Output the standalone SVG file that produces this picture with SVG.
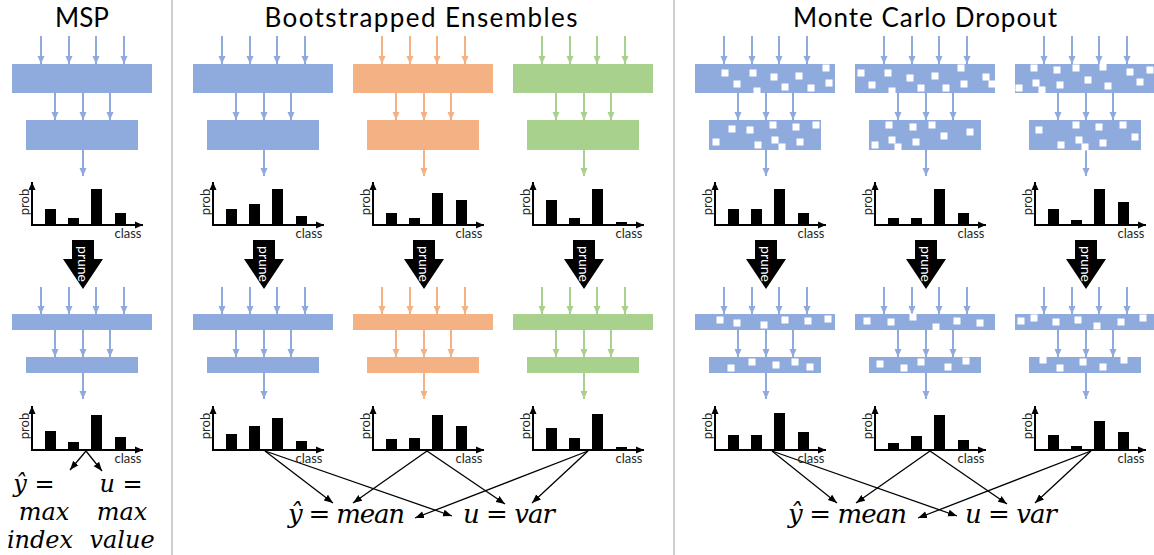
<svg xmlns="http://www.w3.org/2000/svg" xmlns:xlink="http://www.w3.org/1999/xlink" width="1154" height="555" viewBox="0 0 1154 555">
<style>
.b{fill:#8FAADC}.o{fill:#F4B183}.g{fill:#A9D18E}
.sq{fill:#fff;width:7px;height:7px}
.bar{fill:#000}
.ax{stroke:#000;stroke-width:2;marker-end:url(#mk)}
.conn{stroke:#000;stroke-width:1.3;fill:none;marker-end:url(#mc)}
.lbl{font-family:Lato,'Liberation Sans',sans-serif;font-size:13px;fill:#262626}
.title{font-family:Lato,'Liberation Sans',sans-serif;font-size:26px;fill:#000}
.math{font-family:'DejaVu Serif',serif;font-style:italic;font-size:26px;fill:#000}
.m2{font-family:'DejaVu Serif',serif;font-style:italic;font-size:24px;fill:#000}
.pt{font-family:Lato,'Liberation Sans',sans-serif;font-size:14px;fill:#fff}
.sb{stroke:#8FAADC;stroke-width:2;marker-end:url(#mb)}
.so{stroke:#F4B183;stroke-width:2;marker-end:url(#mo)}
.sg{stroke:#A9D18E;stroke-width:2;marker-end:url(#mg)}
.div{stroke:#BFBFBF;stroke-width:1.5}
</style>
<defs>
<marker id="mb" viewBox="0 0 8 8" refX="8" refY="4" markerWidth="8" markerHeight="8" markerUnits="userSpaceOnUse" orient="auto"><path d="M0,0.5 L8,4 L0,7.5 z" fill="#8FAADC"/></marker>
<marker id="mo" viewBox="0 0 8 8" refX="8" refY="4" markerWidth="8" markerHeight="8" markerUnits="userSpaceOnUse" orient="auto"><path d="M0,0.5 L8,4 L0,7.5 z" fill="#F4B183"/></marker>
<marker id="mg" viewBox="0 0 8 8" refX="8" refY="4" markerWidth="8" markerHeight="8" markerUnits="userSpaceOnUse" orient="auto"><path d="M0,0.5 L8,4 L0,7.5 z" fill="#A9D18E"/></marker>
<marker id="mk" viewBox="0 0 8 8" refX="8" refY="4" markerWidth="8" markerHeight="8" markerUnits="userSpaceOnUse" orient="auto"><path d="M0,0.5 L8,4 L0,7.5 z" fill="#000"/></marker>
<marker id="mc" viewBox="0 0 9 8" refX="9" refY="4" markerWidth="9" markerHeight="8" markerUnits="userSpaceOnUse" orient="auto"><path d="M0,0.5 L9,4 L0,7.5 z" fill="#000"/></marker>
<g id="aTop">
<line x1="29" y1="36" x2="29" y2="64"/><line x1="57" y1="36" x2="57" y2="64"/><line x1="84" y1="36" x2="84" y2="64"/><line x1="112" y1="36" x2="112" y2="64"/>
<line x1="43" y1="93" x2="43" y2="120"/><line x1="71" y1="93" x2="71" y2="120"/><line x1="98" y1="93" x2="98" y2="120"/>
<line x1="71" y1="150" x2="71" y2="176"/>
</g>
<g id="aBot">
<line x1="29" y1="287" x2="29" y2="314"/><line x1="57" y1="287" x2="57" y2="314"/><line x1="84" y1="287" x2="84" y2="314"/><line x1="112" y1="287" x2="112" y2="314"/>
<line x1="43" y1="330" x2="43" y2="357"/><line x1="71" y1="330" x2="71" y2="357"/><line x1="98" y1="330" x2="98" y2="357"/>
<line x1="71" y1="373" x2="71" y2="399"/>
</g>
<g id="axTop">
<line class="ax" x1="20" y1="226" x2="20" y2="182"/>
<line class="ax" x1="19" y1="225" x2="131" y2="225"/>
<text class="lbl" x="116" y="238" text-anchor="middle">class</text>
<text class="lbl" transform="translate(12,202) rotate(-90)" text-anchor="middle" dominant-baseline="central">prob</text>
</g>
<g id="axBot">
<line class="ax" x1="20" y1="451" x2="20" y2="406"/>
<line class="ax" x1="19" y1="450" x2="131" y2="450"/>
<text class="lbl" x="116" y="463" text-anchor="middle">class</text>
<text class="lbl" transform="translate(12,426) rotate(-90)" text-anchor="middle" dominant-baseline="central">prob</text>
</g>
<g id="prune">
<polygon points="60,240 82,240 82,259 91,259 71,289 51,259 60,259" fill="#000"/>
<text class="pt" transform="translate(71,264) rotate(90)" text-anchor="middle" dominant-baseline="central">prune</text>
</g>
</defs>

<rect x="0" y="0" width="1154" height="555" fill="#fff"/>
<line class="div" x1="172" y1="0" x2="172" y2="555"/>
<line class="div" x1="674" y1="0" x2="674" y2="555"/>

<g id="titles">
<text class="title" x="82" y="27" text-anchor="middle">MSP</text>
<text class="title" x="421" y="27" text-anchor="middle" textLength="313">Bootstrapped Ensembles</text>
<text class="title" x="925" y="27" text-anchor="middle" textLength="264">Monte Carlo Dropout</text>
</g>

<g id="connectors">
<use href="#aTop" x="12" class="sb"/><use href="#aBot" x="12" class="sb"/>
<use href="#aTop" x="193" class="sb"/><use href="#aBot" x="193" class="sb"/>
<use href="#aTop" x="353" class="so"/><use href="#aBot" x="353" class="so"/>
<use href="#aTop" x="513" class="sg"/><use href="#aBot" x="513" class="sg"/>
<use href="#aTop" x="695" class="sb"/><use href="#aBot" x="695" class="sb"/>
<use href="#aTop" x="855" class="sb"/><use href="#aBot" x="855" class="sb"/>
<use href="#aTop" x="1015" class="sb"/><use href="#aBot" x="1015" class="sb"/>
<line class="conn" x1="86" y1="451" x2="70" y2="470"/>
<line class="conn" x1="86" y1="451" x2="102" y2="471"/>
<line class="conn" x1="265" y1="451" x2="333" y2="503"/>
<line class="conn" x1="265" y1="451" x2="452" y2="516"/>
<line class="conn" x1="427" y1="451" x2="353" y2="503"/>
<line class="conn" x1="427" y1="451" x2="505" y2="504"/>
<line class="conn" x1="588" y1="451" x2="415" y2="518"/>
<line class="conn" x1="588" y1="451" x2="532" y2="503"/>
<line class="conn" x1="772" y1="451" x2="837" y2="503"/>
<line class="conn" x1="772" y1="451" x2="957" y2="516"/>
<line class="conn" x1="930" y1="451" x2="856" y2="503"/>
<line class="conn" x1="930" y1="451" x2="1007" y2="504"/>
<line class="conn" x1="1091" y1="451" x2="918" y2="518"/>
<line class="conn" x1="1091" y1="451" x2="1035" y2="503"/>
</g>

<g id="msp">
<g id="msp-l1"><rect class="b" x="12" y="64" width="140" height="29"/></g>
<g id="msp-l2"><rect class="b" x="26" y="120" width="112" height="30"/></g>
<g id="msp-out1"><use href="#axTop" x="12"/><rect class="bar" x="45" y="209" width="11" height="16"/><rect class="bar" x="68" y="218" width="11" height="7"/><rect class="bar" x="91" y="189" width="11" height="36"/><rect class="bar" x="115" y="213" width="11" height="12"/></g>
<g id="msp-prune"><use href="#prune" x="12"/></g>
<g id="msp-l3"><rect class="b" x="12" y="314" width="140" height="16"/></g>
<g id="msp-l4"><rect class="b" x="26" y="357" width="112" height="16"/></g>
<g id="msp-out2"><use href="#axBot" x="12"/><rect class="bar" x="45" y="431" width="11" height="19"/><rect class="bar" x="68" y="442" width="11" height="8"/><rect class="bar" x="91" y="415" width="11" height="35"/><rect class="bar" x="115" y="437" width="11" height="13"/></g>
<g id="msp-result">
<text class="m2" x="34" y="492" text-anchor="middle">ŷ =</text>
<text class="m2" x="44" y="520" text-anchor="middle">max</text>
<text class="m2" x="40" y="548" text-anchor="middle">index</text>
<text class="m2" x="121" y="492" text-anchor="middle">u =</text>
<text class="m2" x="122" y="520" text-anchor="middle">max</text>
<text class="m2" x="122" y="548" text-anchor="middle">value</text>
</g>
</g>

<g id="boot1">
<g id="boot1-l1"><rect class="b" x="193" y="64" width="140" height="29"/></g>
<g id="boot1-l2"><rect class="b" x="207" y="120" width="112" height="30"/></g>
<g id="boot1-out1"><use href="#axTop" x="193"/><rect class="bar" x="226" y="209" width="11" height="16"/><rect class="bar" x="249" y="204" width="11" height="21"/><rect class="bar" x="272" y="189" width="11" height="36"/><rect class="bar" x="296" y="216" width="11" height="9"/></g>
<g id="boot1-prune"><use href="#prune" x="193"/></g>
<g id="boot1-l3"><rect class="b" x="193" y="314" width="140" height="16"/></g>
<g id="boot1-l4"><rect class="b" x="207" y="357" width="112" height="16"/></g>
<g id="boot1-out2"><use href="#axBot" x="193"/><rect class="bar" x="226" y="434" width="11" height="16"/><rect class="bar" x="249" y="426" width="11" height="24"/><rect class="bar" x="272" y="418" width="11" height="32"/><rect class="bar" x="296" y="441" width="11" height="9"/></g>
</g>

<g id="boot2">
<g id="boot2-l1"><rect class="o" x="353" y="64" width="140" height="29"/></g>
<g id="boot2-l2"><rect class="o" x="367" y="120" width="112" height="30"/></g>
<g id="boot2-out1"><use href="#axTop" x="353"/><rect class="bar" x="386" y="213" width="11" height="12"/><rect class="bar" x="409" y="218" width="11" height="7"/><rect class="bar" x="432" y="193" width="11" height="32"/><rect class="bar" x="456" y="200" width="11" height="25"/></g>
<g id="boot2-prune"><use href="#prune" x="353"/></g>
<g id="boot2-l3"><rect class="o" x="353" y="314" width="140" height="16"/></g>
<g id="boot2-l4"><rect class="o" x="367" y="357" width="112" height="16"/></g>
<g id="boot2-out2"><use href="#axBot" x="353"/><rect class="bar" x="386" y="439" width="11" height="11"/><rect class="bar" x="409" y="438" width="11" height="12"/><rect class="bar" x="432" y="415" width="11" height="35"/><rect class="bar" x="456" y="426" width="11" height="24"/></g>
</g>

<g id="boot3">
<g id="boot3-l1"><rect class="g" x="513" y="64" width="140" height="29"/></g>
<g id="boot3-l2"><rect class="g" x="527" y="120" width="112" height="30"/></g>
<g id="boot3-out1"><use href="#axTop" x="513"/><rect class="bar" x="546" y="200" width="11" height="25"/><rect class="bar" x="569" y="218" width="11" height="7"/><rect class="bar" x="592" y="189" width="11" height="36"/><rect class="bar" x="616" y="222" width="11" height="3"/></g>
<g id="boot3-prune"><use href="#prune" x="513"/></g>
<g id="boot3-l3"><rect class="g" x="513" y="314" width="140" height="16"/></g>
<g id="boot3-l4"><rect class="g" x="527" y="357" width="112" height="16"/></g>
<g id="boot3-out2"><use href="#axBot" x="513"/><rect class="bar" x="546" y="428" width="11" height="22"/><rect class="bar" x="569" y="438" width="11" height="12"/><rect class="bar" x="592" y="414" width="11" height="36"/><rect class="bar" x="616" y="447" width="11" height="3"/></g>
</g>

<g id="boot-result">
<text class="math" x="288" y="523" textLength="117">ŷ = mean</text>
<text class="math" x="463" y="523" textLength="92">u = var</text>
</g>

<g id="mc1">
<g id="mc1-l1"><rect class="b" x="695" y="64" width="140" height="29"/>
<rect class="sq" x="721.5" y="69.5"/><rect class="sq" x="733.5" y="80.5"/><rect class="sq" x="749.5" y="69.5"/><rect class="sq" x="753.5" y="87.5"/><rect class="sq" x="770.5" y="73.5"/><rect class="sq" x="781.5" y="83.5"/><rect class="sq" x="795.5" y="72.5"/><rect class="sq" x="807.5" y="84.5"/><rect class="sq" x="822.5" y="64.5"/><rect class="sq" x="825.5" y="79.5"/></g>
<g id="mc1-l2"><rect class="b" x="709" y="120" width="112" height="30"/>
<rect class="sq" x="728.5" y="125.5"/><rect class="sq" x="746.5" y="126.5"/><rect class="sq" x="769.5" y="121.5"/><rect class="sq" x="792.5" y="123.5"/><rect class="sq" x="812.5" y="121.5"/><rect class="sq" x="712.5" y="138.5"/><rect class="sq" x="754.5" y="141.5"/><rect class="sq" x="771.5" y="136.5"/><rect class="sq" x="778.5" y="143.5"/><rect class="sq" x="796.5" y="138.5"/></g>
<g id="mc1-out1"><use href="#axTop" x="695"/><rect class="bar" x="728" y="209" width="11" height="16"/><rect class="bar" x="751" y="209" width="11" height="16"/><rect class="bar" x="774" y="189" width="11" height="36"/><rect class="bar" x="798" y="213" width="11" height="12"/></g>
<g id="mc1-prune"><use href="#prune" x="695"/></g>
<g id="mc1-l3"><rect class="b" x="695" y="314" width="140" height="16"/>
<rect class="sq" x="716.5" y="316.5"/><rect class="sq" x="733.5" y="319.5"/><rect class="sq" x="760.5" y="321.5"/><rect class="sq" x="781.5" y="316.5"/><rect class="sq" x="804.5" y="317.5"/><rect class="sq" x="824.5" y="315.5"/></g>
<g id="mc1-l4"><rect class="b" x="709" y="357" width="112" height="16"/>
<rect class="sq" x="727.5" y="364.5"/><rect class="sq" x="748.5" y="358.5"/><rect class="sq" x="772.5" y="361.5"/><rect class="sq" x="791.5" y="358.5"/><rect class="sq" x="806.5" y="363.5"/></g>
<g id="mc1-out2"><use href="#axBot" x="695"/><rect class="bar" x="728" y="435" width="11" height="15"/><rect class="bar" x="751" y="435" width="11" height="15"/><rect class="bar" x="774" y="413" width="11" height="37"/><rect class="bar" x="798" y="432" width="11" height="18"/></g>
</g>

<g id="mc2">
<g id="mc2-l1"><rect class="b" x="855" y="64" width="140" height="29"/>
<rect class="sq" x="857.5" y="69.5"/><rect class="sq" x="868.5" y="81.5"/><rect class="sq" x="884.5" y="69.5"/><rect class="sq" x="888.5" y="87.5"/><rect class="sq" x="906.5" y="74.5"/><rect class="sq" x="917.5" y="84.5"/><rect class="sq" x="931.5" y="72.5"/><rect class="sq" x="942.5" y="84.5"/><rect class="sq" x="957.5" y="64.5"/><rect class="sq" x="960.5" y="80.5"/><rect class="sq" x="982.5" y="73.5"/><rect class="sq" x="988.5" y="80.5"/></g>
<g id="mc2-l2"><rect class="b" x="869" y="120" width="112" height="30"/>
<rect class="sq" x="885.5" y="121.5"/><rect class="sq" x="909.5" y="123.5"/><rect class="sq" x="928.5" y="121.5"/><rect class="sq" x="940.5" y="132.5"/><rect class="sq" x="966.5" y="128.5"/><rect class="sq" x="888.5" y="136.5"/><rect class="sq" x="871.5" y="141.5"/><rect class="sq" x="894.5" y="143.5"/><rect class="sq" x="912.5" y="138.5"/></g>
<g id="mc2-out1"><use href="#axTop" x="855"/><rect class="bar" x="888" y="218" width="11" height="7"/><rect class="bar" x="911" y="218" width="11" height="7"/><rect class="bar" x="934" y="189" width="11" height="36"/><rect class="bar" x="958" y="213" width="11" height="12"/></g>
<g id="mc2-prune"><use href="#prune" x="855"/></g>
<g id="mc2-l3"><rect class="b" x="855" y="314" width="140" height="16"/>
<rect class="sq" x="863.5" y="317.5"/><rect class="sq" x="887.5" y="318.5"/><rect class="sq" x="909.5" y="313.5"/><rect class="sq" x="932.5" y="323.5"/><rect class="sq" x="953.5" y="317.5"/><rect class="sq" x="976.5" y="319.5"/></g>
<g id="mc2-l4"><rect class="b" x="869" y="357" width="112" height="16"/>
<rect class="sq" x="876.5" y="360.5"/><rect class="sq" x="900.5" y="364.5"/><rect class="sq" x="917.5" y="358.5"/><rect class="sq" x="944.5" y="363.5"/><rect class="sq" x="962.5" y="357.5"/></g>
<g id="mc2-out2"><use href="#axBot" x="855"/><rect class="bar" x="888" y="443" width="11" height="7"/><rect class="bar" x="911" y="436" width="11" height="14"/><rect class="bar" x="934" y="415" width="11" height="35"/><rect class="bar" x="958" y="440" width="11" height="10"/></g>
</g>

<g id="mc3">
<g id="mc3-l1"><rect class="b" x="1015" y="64" width="140" height="29"/>
<rect class="sq" x="1030.5" y="64.5"/><rect class="sq" x="1053.5" y="66.5"/><rect class="sq" x="1072.5" y="64.5"/><rect class="sq" x="1099.5" y="63.5"/><rect class="sq" x="1126.5" y="68.5"/><rect class="sq" x="1146.5" y="66.5"/><rect class="sq" x="1032.5" y="79.5"/><rect class="sq" x="1015.5" y="84.5"/><rect class="sq" x="1038.5" y="86.5"/><rect class="sq" x="1056.5" y="81.5"/><rect class="sq" x="1084.5" y="76.5"/><rect class="sq" x="1104.5" y="82.5"/><rect class="sq" x="1136.5" y="78.5"/></g>
<g id="mc3-l2"><rect class="b" x="1029" y="120" width="112" height="30"/>
<rect class="sq" x="1035.5" y="126.5"/><rect class="sq" x="1072.5" y="121.5"/><rect class="sq" x="1095.5" y="123.5"/><rect class="sq" x="1119.5" y="121.5"/><rect class="sq" x="1131.5" y="133.5"/><rect class="sq" x="1057.5" y="141.5"/><rect class="sq" x="1075.5" y="136.5"/><rect class="sq" x="1081.5" y="143.5"/><rect class="sq" x="1099.5" y="139.5"/></g>
<g id="mc3-out1"><use href="#axTop" x="1015"/><rect class="bar" x="1048" y="209" width="11" height="16"/><rect class="bar" x="1071" y="220" width="11" height="5"/><rect class="bar" x="1094" y="189" width="11" height="36"/><rect class="bar" x="1118" y="202" width="11" height="23"/></g>
<g id="mc3-prune"><use href="#prune" x="1015"/></g>
<g id="mc3-l3"><rect class="b" x="1015" y="314" width="140" height="16"/>
<rect class="sq" x="1017.5" y="317.5"/><rect class="sq" x="1030.5" y="314.5"/><rect class="sq" x="1052.5" y="318.5"/><rect class="sq" x="1074.5" y="316.5"/><rect class="sq" x="1093.5" y="322.5"/><rect class="sq" x="1117.5" y="318.5"/><rect class="sq" x="1139.5" y="314.5"/></g>
<g id="mc3-l4"><rect class="b" x="1029" y="357" width="112" height="16"/>
<rect class="sq" x="1039.5" y="356.5"/><rect class="sq" x="1056.5" y="364.5"/><rect class="sq" x="1079.5" y="358.5"/><rect class="sq" x="1099.5" y="363.5"/><rect class="sq" x="1120.5" y="356.5"/></g>
<g id="mc3-out2"><use href="#axBot" x="1015"/><rect class="bar" x="1048" y="435" width="11" height="15"/><rect class="bar" x="1071" y="446" width="11" height="4"/><rect class="bar" x="1094" y="421" width="11" height="29"/><rect class="bar" x="1118" y="432" width="11" height="18"/></g>
</g>

<g id="mc-result">
<text class="math" x="788" y="523" textLength="119">ŷ = mean</text>
<text class="math" x="965" y="523" textLength="92">u = var</text>
</g>
</svg>
